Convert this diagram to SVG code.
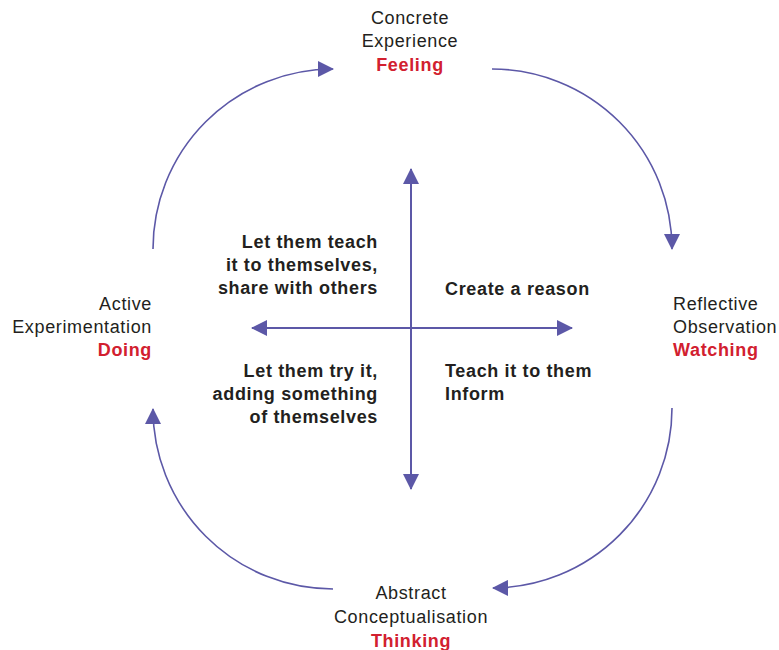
<svg xmlns="http://www.w3.org/2000/svg" width="779" height="650" viewBox="0 0 779 650">
<style>
  .lbl { font-family: "Liberation Sans", Arial, sans-serif; font-size: 18px; fill: #231f20; letter-spacing: 0.65px; }
  .red { font-weight: bold; fill: #d2202f; }
  .mid { font-family: "Liberation Sans", Arial, sans-serif; font-size: 18px; font-weight: bold; fill: #231f20; letter-spacing: 0.65px; }
  .arc { fill: none; stroke: #5c58a7; stroke-width: 1.6; }
  .axis { fill: none; stroke: #5c58a7; stroke-width: 2; }
</style>
<defs>
  <marker id="ah" viewBox="0 0 16 16" refX="15" refY="8" markerWidth="16" markerHeight="16" markerUnits="userSpaceOnUse" orient="auto">
    <path d="M0,0 L16,8 L0,16 Z" fill="#5c58a7"/>
  </marker>
</defs>
<rect width="779" height="650" fill="#ffffff"/>
<g id="connectors">
  <path class="arc" d="M153,249 A180,180 0 0 1 333,69" marker-end="url(#ah)"/>
  <path class="arc" d="M492,69 A180,180 0 0 1 672,249" marker-end="url(#ah)"/>
  <path class="arc" d="M672,408 A180,180 0 0 1 493,588" marker-end="url(#ah)"/>
  <path class="arc" d="M333,589 A180,180 0 0 1 153,409" marker-end="url(#ah)"/>
  <line class="axis" x1="411" y1="328" x2="411" y2="169" marker-end="url(#ah)"/>
  <line class="axis" x1="411" y1="328" x2="411" y2="489" marker-end="url(#ah)"/>
  <line class="axis" x1="411" y1="328" x2="252" y2="328" marker-end="url(#ah)"/>
  <line class="axis" x1="411" y1="328" x2="572" y2="328" marker-end="url(#ah)"/>
</g>
<g id="concrete" text-anchor="middle">
  <text class="lbl" x="410" y="24">Concrete</text>
  <text class="lbl" x="410" y="47">Experience</text>
  <text class="lbl red" x="410" y="71">Feeling</text>
</g>
<g id="reflective">
  <text class="lbl" x="673" y="310">Reflective</text>
  <text class="lbl" x="673" y="333">Observation</text>
  <text class="lbl red" x="673" y="356">Watching</text>
</g>
<g id="abstract" text-anchor="middle">
  <text class="lbl" x="411" y="599">Abstract</text>
  <text class="lbl" x="411" y="623">Conceptualisation</text>
  <text class="lbl red" x="411" y="647">Thinking</text>
</g>
<g id="active" text-anchor="end">
  <text class="lbl" x="152" y="310">Active</text>
  <text class="lbl" x="152" y="333">Experimentation</text>
  <text class="lbl red" x="152" y="356">Doing</text>
</g>
<g id="q-top-left" text-anchor="end">
  <text class="mid" x="378" y="248">Let them teach</text>
  <text class="mid" x="378" y="271">it to themselves,</text>
  <text class="mid" x="378" y="294">share with others</text>
</g>
<g id="q-top-right">
  <text class="mid" x="445" y="295">Create a reason</text>
</g>
<g id="q-bottom-left" text-anchor="end">
  <text class="mid" x="378" y="377">Let them try it,</text>
  <text class="mid" x="378" y="400">adding something</text>
  <text class="mid" x="378" y="423">of themselves</text>
</g>
<g id="q-bottom-right">
  <text class="mid" x="445" y="377">Teach it to them</text>
  <text class="mid" x="445" y="400">Inform</text>
</g>
</svg>
